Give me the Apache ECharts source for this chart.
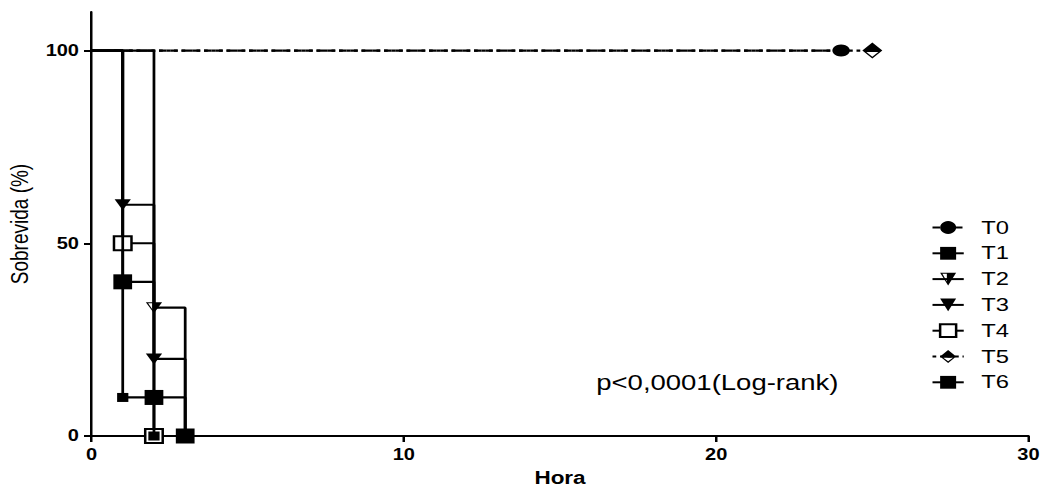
<!DOCTYPE html>
<html><head><meta charset="utf-8">
<script src="https://cdn.jsdelivr.net/npm/echarts@6/dist/echarts.min.js"></script>
<style>
html,body{margin:0;padding:0;background:#fff;overflow:hidden;}
#chart{width:838.4px;height:488px;transform:scaleX(1.25);transform-origin:0 0;}
</style></head><body><div id="chart"></div>
<script>
const seriesNames = ['T0','T1','T2','T3','T4','T5','T6'];
const t0Hours = [0, 24],        t0Survival = [100, 100];
const t1Hours = [0, 1, 2],      t1Survival = [100, 10, 0];
const t2Hours = [0, 2, 3],      t2Survival = [100, 33.3, 0];
const t3Hours = [0, 1, 2, 3],   t3Survival = [100, 60, 20, 0];
const t4Hours = [0, 1, 2],      t4Survival = [100, 50, 0];
const t5Hours = [0, 25],        t5Survival = [100, 100];
const t6Hours = [0, 1, 2, 3],   t6Survival = [100, 40, 10, 0];
const xTicks = [0, 10, 20, 30];
const yTicks = [0, 50, 100];
const xTitle = 'Hora';
const yTitle = 'Sobrevida (%)';
const pValueText = 'p<0,0001(Log-rank)';

const FONT = '"Liberation Sans", Arial, sans-serif';
const INK = '#000';

function pts(h, s) {
  return h.map((x, i) => i === 0 ? { value: [x, s[i]], symbol: 'none' } : [x, s[i]]);
}

const halfTri = 'path://M5,10 L10,0 L5,0 Z M0,0 L5,10 L5,0 Z M1.4,0.9 L4.2,0.9 L4.2,6.9 Z';
const halfDiamond = 'path://M0,5 L5,0 L10,5 Z M0,5 L5,10 L10,5 Z M2,5.9 L8,5.9 L5,8.8 Z';

const styles = [
  { symbol: 'circle', symbolSize: [14, 12], dash: [6, 3] },
  { symbol: 'rect', symbolSize: 9, z: 3 },
  { symbol: halfTri, symbolSize: [13, 11] },
  { symbol: 'triangle', symbolSize: [13, 11], rotate: 180 },
  { symbol: 'rect', symbolSize: 14, open: true },
  { symbol: halfDiamond, symbolSize: [16, 16], dash: [3, 3] },
  { symbol: 'rect', symbolSize: 15 }
];
const dataSets = [
  pts(t0Hours, t0Survival), pts(t1Hours, t1Survival), pts(t2Hours, t2Survival),
  pts(t3Hours, t3Survival), pts(t4Hours, t4Survival), pts(t5Hours, t5Survival),
  pts(t6Hours, t6Survival)
];

const series = seriesNames.map((name, i) => {
  const st = styles[i];
  return {
    name: name,
    type: 'line',
    step: st.dash ? false : 'end',
    data: dataSets[i],
    symbol: st.symbol,
    symbolSize: st.symbolSize,
    symbolRotate: st.rotate || 0,
    showSymbol: true,
    z: st.z || 2,
    lineStyle: { color: INK, width: 2.2, type: st.dash || 'solid' },
    itemStyle: st.open
      ? { color: '#fff', borderColor: INK, borderWidth: 2 }
      : { color: INK, borderWidth: 0 },
    emphasis: { disabled: true }
  };
});

const chart = echarts.init(document.getElementById('chart'), null, { renderer: 'svg' });
chart.setOption({
  animation: false,
  backgroundColor: '#fff',
  textStyle: { fontFamily: FONT },
  grid: { left: 73.2, right: 15.2, top: 12, bottom: 52, containLabel: false, outerBoundsMode: 'none' },
  xAxis: {
    type: 'value', min: 0, max: 30, interval: 10,
    name: xTitle, nameLocation: 'middle', nameGap: 33,
    nameTextStyle: { fontFamily: FONT, fontSize: 18, fontWeight: 'bold', color: INK },
    axisLine: { show: true, onZero: false, lineStyle: { color: INK, width: 2 } },
    axisTick: { show: true, length: 6, lineStyle: { color: INK, width: 2 }, customValues: xTicks },
    axisLabel: { fontFamily: FONT, fontSize: 16, fontWeight: 'bold', color: INK, margin: 11, customValues: xTicks },
    splitLine: { show: false }
  },
  yAxis: {
    type: 'value', min: 0, max: 110, interval: 50,
    name: yTitle, nameLocation: 'middle', nameGap: 47, nameRotate: 90,
    nameTextStyle: { fontFamily: FONT, fontSize: 19, color: INK },
    axisLine: { show: true, onZero: false, lineStyle: { color: INK, width: 2 } },
    axisTick: { show: true, length: 6, lineStyle: { color: INK, width: 2 }, customValues: yTicks },
    axisLabel: { fontFamily: FONT, fontSize: 16, fontWeight: 'bold', color: INK, margin: 10, customValues: yTicks,
      formatter: v => (yTicks.indexOf(v) >= 0 ? String(v) : '') },
    splitLine: { show: false }
  },
  legend: {
    orient: 'vertical', left: 740, top: 213, padding: 5,
    itemWidth: 25, itemHeight: 16, itemGap: 6.8,
    selectedMode: false,
    textStyle: { fontFamily: FONT, fontSize: 19, color: INK, lineHeight: 18, padding: [0, 0, 0, 9] },
    data: seriesNames
  },
  graphic: [{
    type: 'text', left: 477, top: 371.5, silent: true,
    style: { text: pValueText, font: '22px ' + FONT, fill: INK }
  }],
  series: series
});
</script></body></html>
